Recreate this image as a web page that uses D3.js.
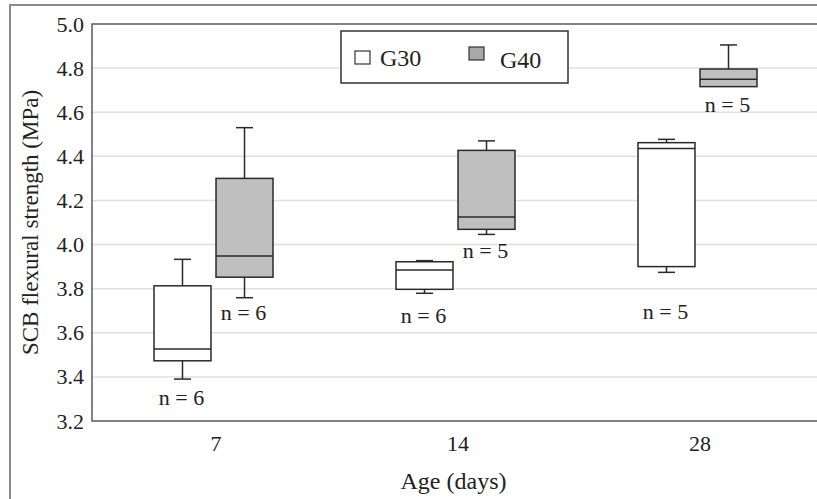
<!DOCTYPE html>
<html><head><meta charset="utf-8">
<script src="https://cdn.jsdelivr.net/npm/d3@7"></script>
<style>html,body{margin:0;padding:0;background:#fff;overflow:hidden}svg{display:block}</style>
</head><body><svg id="c" width="817" height="499"></svg>
<script>
const ages = ["7", "14", "28"];
const groups = ["G30", "G40"];
const groupFills = ["#ffffff", "#bfbfbf"];
// [whiskerLow, Q1, median, Q3, whiskerHigh] per age
const g30Stats = [
  [3.39, 3.473, 3.526, 3.813, 3.933],
  [3.779, 3.797, 3.885, 3.922, 3.927],
  [3.874, 3.900, 4.436, 4.462, 4.477]
];
const g40Stats = [
  [3.759, 3.852, 3.948, 4.300, 4.530],
  [4.046, 4.069, 4.125, 4.427, 4.470],
  [4.716, 4.716, 4.750, 4.796, 4.905]
];
const g30N = [6, 6, 5];
const g40N = [6, 5, 5];
const g30LabelAt = [3.309, 3.681, 3.699];
const g40LabelAt = [3.691, 3.975, 4.637];
const yTicks = [3.2, 3.4, 3.6, 3.8, 4.0, 4.2, 4.4, 4.6, 4.8, 5.0];

const FONT = "'Liberation Serif', 'Times New Roman', 'DejaVu Serif', serif";
const svg = d3.select("#c");
const L = 92, T = 24, B = 421, R = 821;
const x = d3.scaleBand().domain(ages).range([95, R]).padding(0);
const sub = d3.scaleBand().domain(groups).range([-62, 57]).paddingInner(0.081).paddingOuter(0);
const y = d3.scaleLinear().domain([3.2, 5.0]).range([B, T]);

// outer frame
svg.append("path").attr("d", `M10,499V5H817`).attr("fill", "none").attr("stroke", "#8a8a8a").attr("stroke-width", 2);

// gridlines
svg.append("g").selectAll("line").data(yTicks.slice(1, -1)).join("line")
  .attr("x1", L).attr("x2", 817).attr("y1", d => y(d)).attr("y2", d => y(d))
  .attr("stroke", "#e0e0e0").attr("stroke-width", 1.5);

// y axis
const yAxis = svg.append("g").attr("transform", `translate(${L},0)`)
  .call(d3.axisLeft(y).tickValues(yTicks).tickFormat(d3.format(".1f")).tickSize(0).tickPadding(8));
yAxis.attr("font-family", null);
yAxis.select(".domain").remove();
yAxis.selectAll("text").style("font-family", FONT).style("font-size", "22px").attr("fill", "#222");

// x axis
const xAxis = svg.append("g").attr("transform", `translate(0,${B})`)
  .call(d3.axisBottom(x).tickSize(0).tickPadding(14));
xAxis.attr("font-family", null);
xAxis.select(".domain").remove();
xAxis.selectAll("text").style("font-family", FONT).style("font-size", "22px").attr("fill", "#222");

// plot border (left, top, bottom)
svg.append("path").attr("d", `M817,${T}H${L}V${B}H817`).attr("fill", "none").attr("stroke", "#5a5a5a").attr("stroke-width", 1.5);

// boxes
const allStats = [g30Stats, g40Stats];
const allN = [g30N, g40N];
const allLab = [g30LabelAt, g40LabelAt];
const cap = 17;
groups.forEach((g, gi) => {
  const gEl = svg.append("g");
  ages.forEach((a, ai) => {
    const s = allStats[gi][ai];
    const x0 = x(a) + x.bandwidth() / 2 + sub(g);
    const w = sub.bandwidth();
    const cx = x0 + w / 2;
    const st = "#2a2a2a";
    if (s[4] > s[3]) {
      gEl.append("line").attr("x1", cx).attr("x2", cx).attr("y1", y(s[3])).attr("y2", y(s[4])).attr("stroke", st).attr("stroke-width", 1.5);
      gEl.append("line").attr("x1", cx - cap / 2).attr("x2", cx + cap / 2).attr("y1", y(s[4])).attr("y2", y(s[4])).attr("stroke", st).attr("stroke-width", 1.5);
    }
    if (s[0] < s[1]) {
      gEl.append("line").attr("x1", cx).attr("x2", cx).attr("y1", y(s[1])).attr("y2", y(s[0])).attr("stroke", st).attr("stroke-width", 1.5);
      gEl.append("line").attr("x1", cx - cap / 2).attr("x2", cx + cap / 2).attr("y1", y(s[0])).attr("y2", y(s[0])).attr("stroke", st).attr("stroke-width", 1.5);
    }
    gEl.append("rect").attr("x", x0).attr("width", w).attr("y", y(s[3])).attr("height", y(s[1]) - y(s[3]))
      .attr("fill", groupFills[gi]).attr("stroke", st).attr("stroke-width", 1.5);
    gEl.append("line").attr("x1", x0).attr("x2", x0 + w).attr("y1", y(s[2])).attr("y2", y(s[2])).attr("stroke", st).attr("stroke-width", 1.5);
    gEl.append("text").attr("x", cx - 1).attr("y", y(allLab[gi][ai])).attr("dy", "0.35em")
      .attr("text-anchor", "middle").style("font-family", FONT).style("font-size", "22px").attr("fill", "#222")
      .text(`n = ${allN[gi][ai]}`);
  });
});

// legend
const lg = svg.append("g");
lg.append("rect").attr("x", 341).attr("y", 31).attr("width", 227).attr("height", 52).attr("fill", "#fff").attr("stroke", "#333").attr("stroke-width", 1.5);
const legPos = [{sx: 355, sy: 51, tx: 380, ty: 66}, {sx: 469, sy: 47, tx: 500, ty: 68}];
groups.forEach((g, gi) => {
  const p = legPos[gi];
  lg.append("rect").attr("x", p.sx).attr("y", p.sy).attr("width", 15).attr("height", 13)
    .attr("fill", gi === 0 ? "#fff" : "#a8a8a8").attr("stroke", "#333").attr("stroke-width", 1.2);
  lg.append("text").attr("x", p.tx).attr("y", p.ty).style("font-family", FONT).style("font-size", "24px").attr("fill", "#222").text(g);
});

// axis titles
svg.append("text").attr("x", (L + 817) / 2 - 1).attr("y", 489).attr("text-anchor", "middle")
  .style("font-family", FONT).style("font-size", "24px").attr("fill", "#222").text("Age (days)");
svg.append("text").attr("transform", `translate(38,${(T + B) / 2}) rotate(-90)`).attr("text-anchor", "middle")
  .style("font-family", FONT).style("font-size", "23px").attr("fill", "#222").text("SCB flexural strength (MPa)");
</script></body></html>
